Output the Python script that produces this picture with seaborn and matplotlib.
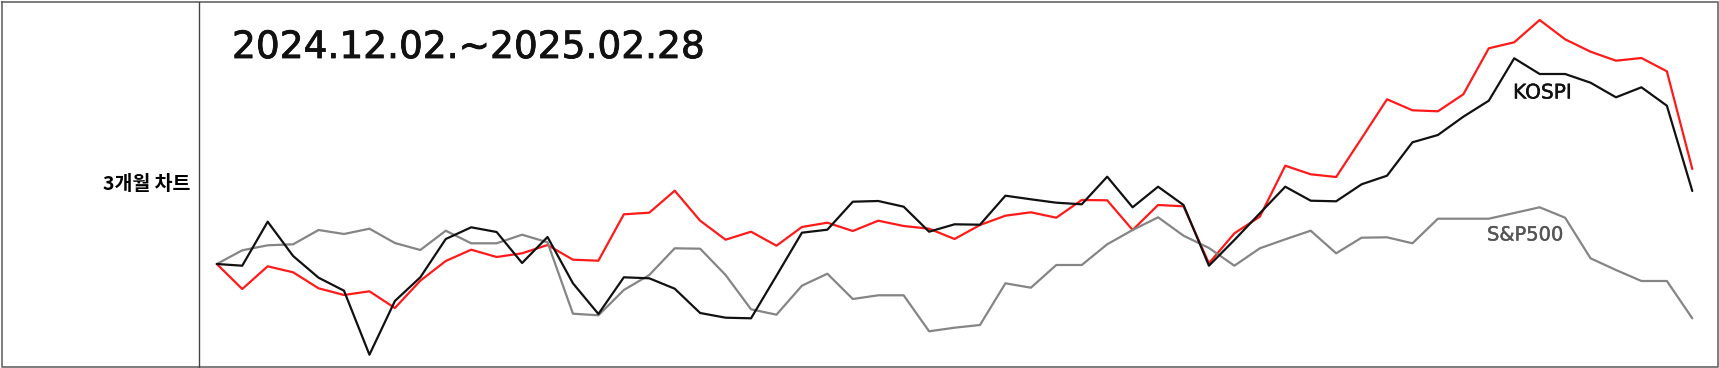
import matplotlib
matplotlib.use("Agg")
import matplotlib.pyplot as plt
import matplotlib.patheffects as pe
import seaborn as sns
import pandas as pd
import numpy as np
from matplotlib.lines import Line2D

# ---- data (relative change) ----
stock = [0, -2.5, -0.23, -0.83, -2.43, -3.1, -2.73, -4.4, -1.67, 0.3,
         1.43, 0.7, 1.07, 1.9, 0.43, 0.33, 4.97, 5.13, 7.33, 4.33,
         2.43, 3.23, 1.83, 3.7, 4.13, 3.3, 4.33, 3.8, 3.53, 2.5,
         3.9, 4.83, 5.17, 4.63, 6.4, 6.37, 3.4, 5.9, 5.77, 0.07,
         3.07, 4.73, 9.83, 8.97, 8.7, 12.57, 16.47, 15.37, 15.27, 16.97,
         21.57, 22.17, 24.4, 22.47, 21.23, 20.33, 20.6, 19.27, 9.5]
kospi = [0, -0.17, 4.23, 0.8, -1.37, -2.67, -9.07, -3.7, -1.33, 2.5,
         3.67, 3.2, 0.1, 2.7, -1.93, -5.0, -1.33, -1.43, -2.47, -4.9,
         -5.37, -5.43, -1.17, 3.13, 3.43, 6.23, 6.3, 5.73, 3.23, 3.97,
         3.93, 6.83, 6.47, 6.13, 5.97, 8.73, 5.67, 7.73, 5.9, -0.17,
         2.4, 5.07, 7.73, 6.33, 6.27, 7.97, 8.83, 12.17, 12.9, 14.73,
         16.33, 20.57, 19.0, 19.0, 18.13, 16.67, 17.67, 15.83, 7.3]
sp500 = [0, 1.37, 1.87, 1.97, 3.4, 3.0, 3.53, 2.1, 1.4, 3.33,
         2.07, 2.07, 2.93, 2.17, -4.97, -5.13, -2.6, -1.1, 1.57, 1.53,
         -1.1, -4.53, -5.07, -2.17, -0.97, -3.5, -3.13, -3.13, -6.73, -6.37,
         -6.1, -1.93, -2.37, -0.1, -0.1, 1.97, 3.4, 4.67, 2.83, 1.6,
         -0.17, 1.57, 2.47, 3.33, 1.07, 2.63, 2.67, 2.07, 4.53, 4.53,
         4.53, 5.1, 5.67, 4.63, 0.57, -0.6, -1.7, -1.7, -5.43]
series_names = ["stock", "KOSPI", "S&P500"]
series_colors = ["#ff1a1a", "#111111", "#858585"]
title_text = "2024.12.02.~2025.02.28"
row_label = "3개월 차트"

n = len(stock)
df = pd.DataFrame({
    "day": list(range(n)) * 3,
    "value": stock + kospi + sp500,
    "series": [series_names[0]] * n + [series_names[1]] * n + [series_names[2]] * n,
})

sns.set_theme(style="white")
plt.rcParams['font.family'] = ['Noto Sans CJK KR', 'DejaVu Sans']

W, H = 1719, 368
fig = plt.figure(figsize=(W / 100, H / 100), dpi=100)
fig.patch.set_facecolor("white")

# axes placed so index 0 -> x=216.8px, index 58 -> x=1692.3px ; y: value v -> 264-10v px
x0, x1 = 216.8, 1692.3
ax = fig.add_axes([x0 / W, 2 / H, (x1 - x0) / W, (366 - 2) / H])
ax.set_xlim(0, n - 1)
ax.set_ylim((264 - 366) / 10, (264 - 2) / 10)
order = [series_names[0], series_names[2], series_names[1]]
palette = dict(zip(series_names, series_colors))
for name in order:
    sns.lineplot(data=df[df["series"] == name], x="day", y="value", color=palette[name],
                 linewidth=1.6, ax=ax, legend=False, clip_on=False)
ax.axis("off")

# table borders
border_col = "#666666"
fig.add_artist(Line2D([1.5 / W, 1.5 / W, 1717.5 / W, 1717.5 / W, 1.5 / W],
                      [1 - 1.5 / H, 1 - 366.5 / H, 1 - 366.5 / H, 1 - 1.5 / H, 1 - 1.5 / H],
                      transform=fig.transFigure, color=border_col, linewidth=1.2))
fig.add_artist(Line2D([199 / W, 199 / W], [1 - 1.5 / H, 1 - 366.5 / H],
                      transform=fig.transFigure, color="#444444", linewidth=1.0))

# texts
fig.text(232 / W, 1 - 48 / H, title_text, fontsize=27, family=['DejaVu Sans'],
         color="#111111", ha="left", va="center",
         path_effects=[pe.withStroke(linewidth=0.6, foreground="#111111")])
fig.text(190 / W, 1 - 185 / H, row_label, fontsize=14, fontweight="heavy",
         family=['Noto Sans CJK KR', 'DejaVu Sans'], ha="right", va="center", color="#000000")
fig.text(1513 / W, 1 - 93 / H, "KOSPI", fontsize=14.5, family=['DejaVu Sans'],
         color="#111111", ha="left", va="center",
         path_effects=[pe.withStroke(linewidth=0.3, foreground="#111111")])
fig.text(1487 / W, 1 - 235 / H, "S&P500", fontsize=14, family=['DejaVu Sans'],
         color="#555555", ha="left", va="center",
         path_effects=[pe.withStroke(linewidth=0.3, foreground="#555555")])

fig.savefig("out.png", dpi=100, facecolor="white")
